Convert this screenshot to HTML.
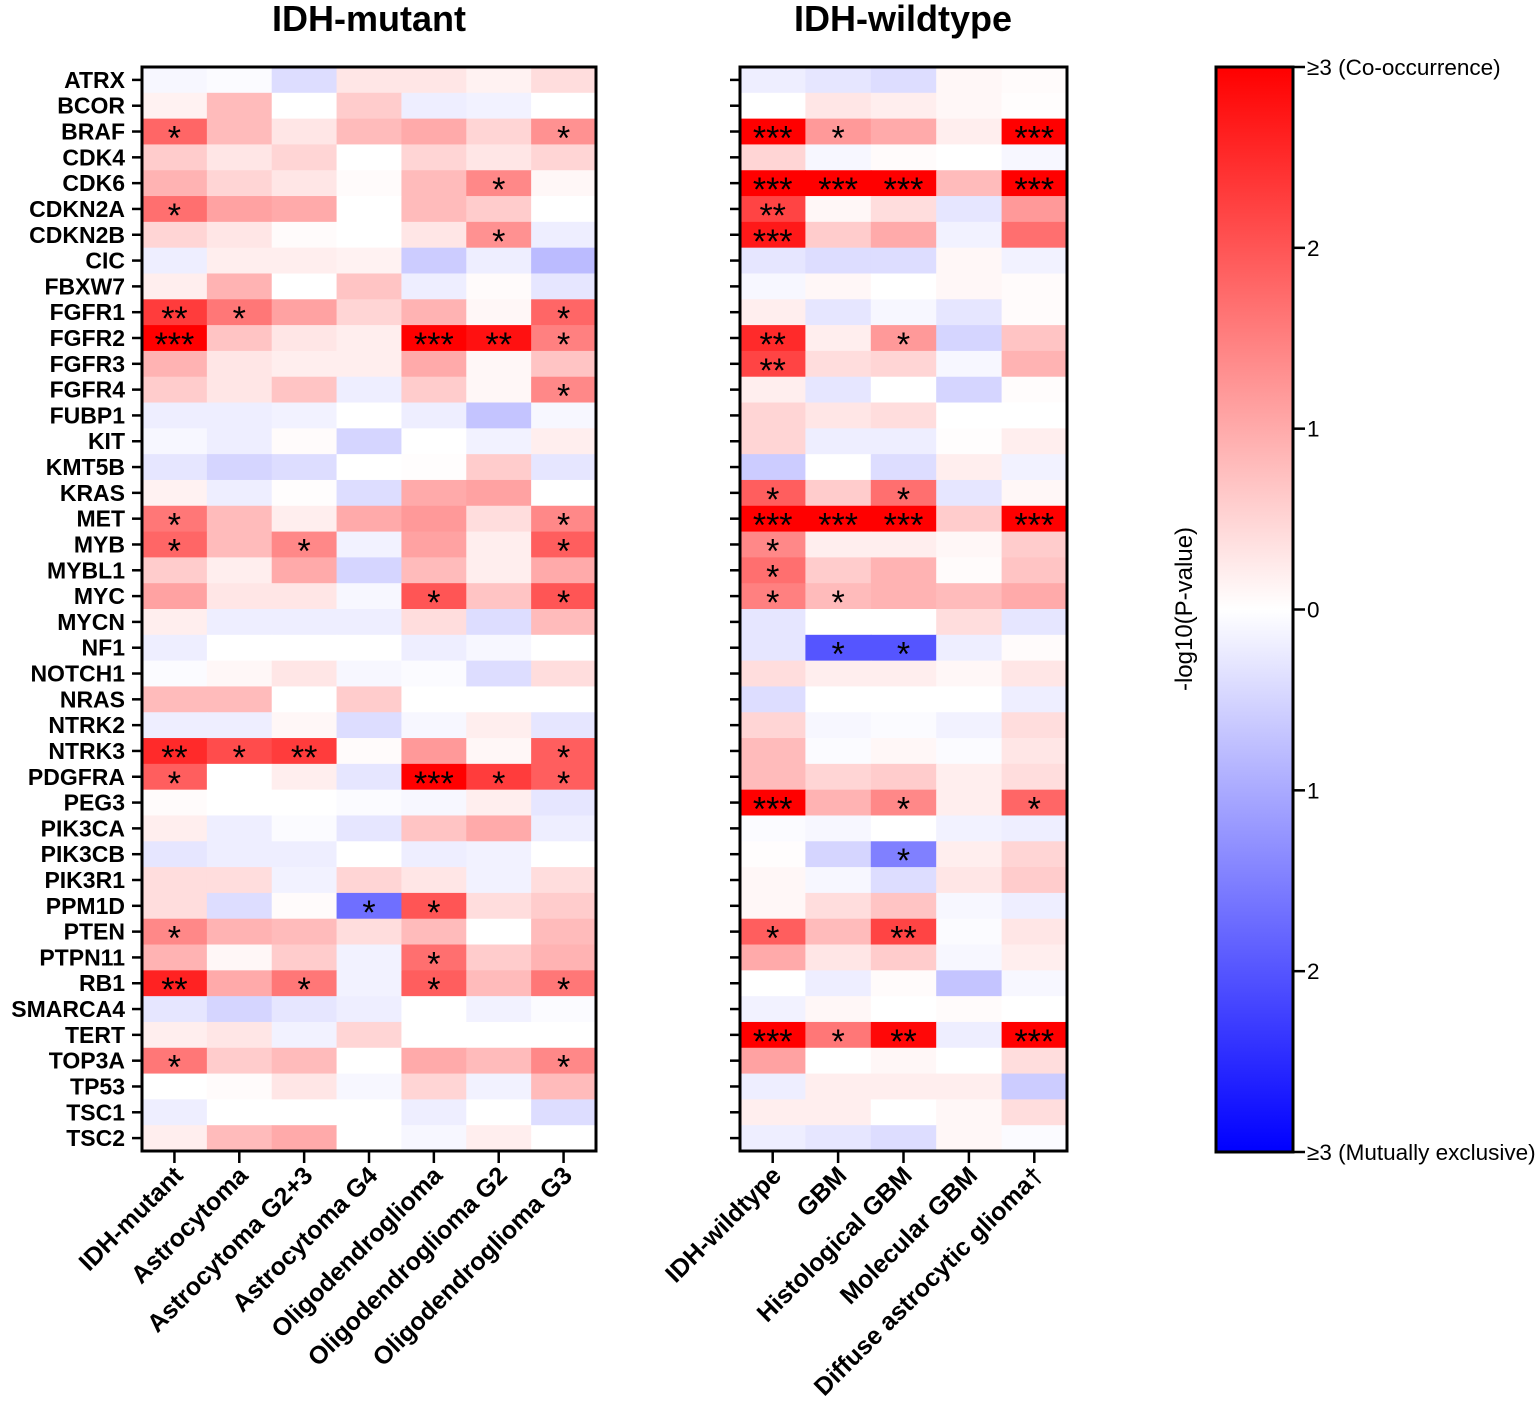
<!DOCTYPE html>
<html><head><meta charset="utf-8"><style>
html,body{margin:0;padding:0;background:#fff}
svg{display:block;font-family:"Liberation Sans",Arial,sans-serif}
</style></head><body>
<svg id="chart" width="1535" height="1411" viewBox="0 0 1535 1411" xmlns="http://www.w3.org/2000/svg">
<defs><linearGradient id="cb" x1="0" y1="0" x2="0" y2="1">
<stop offset="0" stop-color="#ff0000"/><stop offset="0.5" stop-color="#ffffff"/><stop offset="1" stop-color="#0000ff"/>
</linearGradient></defs>
<text x="369" y="31" text-anchor="middle" font-size="36" font-weight="bold">IDH-mutant</text>
<text x="903" y="31" text-anchor="middle" font-size="36" font-weight="bold">IDH-wildtype</text>
<g id="cells"></g>
<g>
<rect x="1216" y="67" width="77" height="1085" fill="url(#cb)" stroke="#000" stroke-width="3"/>
</g>
<g id="cbticks"></g>
<text transform="translate(1192,609) rotate(-90)" text-anchor="middle" font-size="24">-log10(P-value)</text>
</svg>
<script>
const genes=["ATRX","BCOR","BRAF","CDK4","CDK6","CDKN2A","CDKN2B","CIC","FBXW7","FGFR1","FGFR2","FGFR3","FGFR4","FUBP1","KIT","KMT5B","KRAS","MET","MYB","MYBL1","MYC","MYCN","NF1","NOTCH1","NRAS","NTRK2","NTRK3","PDGFRA","PEG3","PIK3CA","PIK3CB","PIK3R1","PPM1D","PTEN","PTPN11","RB1","SMARCA4","TERT","TOP3A","TP53","TSC1","TSC2"];
const mutCols=["IDH-mutant","Astrocytoma","Astrocytoma G2+3","Astrocytoma G4","Oligodendroglioma","Oligodendroglioma G2","Oligodendroglioma G3"];
const wtCols=["IDH-wildtype","GBM","Histological GBM","Molecular GBM","Diffuse astrocytic glioma\u2020"];
const mutVals=[
[-0.1,-0.05,-0.4,0.3,0.3,0.15,0.4],[0.15,0.8,0,0.6,-0.2,-0.15,0],[1.8,0.8,0.3,0.8,1.0,0.5,1.3],[0.6,0.3,0.5,0,0.5,0.3,0.5],
[0.9,0.5,0.3,0.05,0.8,1.4,0.1],[1.7,1.1,1.0,0,0.8,0.6,0],[0.5,0.3,0.05,0,0.3,1.3,-0.2],[-0.2,0.2,0.2,0.15,-0.6,-0.2,-0.8],
[0.2,0.9,0,0.7,-0.2,0.05,-0.3],[2.3,1.6,1.1,0.5,0.9,0.1,1.8],[3,0.7,0.3,0.2,3,2.8,1.5],[0.9,0.3,0.2,0.2,1.0,0.1,0.7],
[0.6,0.3,0.7,-0.2,0.6,0.1,1.4],[-0.2,-0.2,-0.15,0,-0.2,-0.7,-0.1],[-0.1,-0.2,0.05,-0.5,0,-0.15,0.2],[-0.3,-0.5,-0.4,0,0.02,0.6,-0.3],
[0.15,-0.2,0.02,-0.4,1.0,1.1,0],[1.6,0.8,0.2,1.0,1.2,0.4,1.4],[1.8,0.8,1.4,-0.15,1.1,0.2,1.9],[0.6,0.2,1.0,-0.5,0.8,0.2,1.0],
[1.1,0.3,0.3,-0.1,2.0,0.7,2.0],[0.2,-0.2,-0.2,-0.2,0.4,-0.4,0.8],[-0.2,0,0,0,-0.2,-0.1,0],[-0.05,0.1,0.3,-0.1,-0.05,-0.4,0.4],
[0.8,0.8,0,0.6,0,0,0],[-0.2,-0.2,0.1,-0.4,-0.1,0.2,-0.3],[2.5,2.1,2.3,0.05,1.2,0.1,1.9],[1.9,0,0.2,-0.3,3,2.3,1.9],
[0.05,0,0,-0.05,-0.1,0.2,-0.3],[0.2,-0.2,-0.05,-0.3,0.7,1.0,-0.2],[-0.3,-0.2,-0.2,0,-0.2,-0.15,0],[0.4,0.4,-0.15,0.5,0.3,-0.15,0.4],
[0.4,-0.4,0.05,-1.7,2.0,0.4,0.6],[1.4,0.9,0.8,0.4,0.8,0,0.8],[0.9,0.1,0.6,-0.15,1.7,0.6,0.9],[2.6,1.0,1.6,-0.15,1.9,0.8,1.6],
[-0.3,-0.5,-0.3,-0.2,0,-0.15,-0.05],[0.2,0.3,-0.15,0.5,0,0,0],[1.6,0.6,0.8,0,1.0,0.8,1.4],[0,0.05,0.3,-0.1,0.5,-0.15,0.8],
[-0.2,0,0,0,-0.2,0,-0.4],[0.2,0.8,1.0,0,-0.1,0.2,0]];
const mutStars=[
"","","","","","","", "","","","","","","", "*","","","","","","*", "","","","","","","",
"","","","","","*","", "*","","","","","","", "","","","","","*","", "","","","","","","",
"","","","","","","", "**","*","","","","","*", "***","","","","***","**","*", "","","","","","","",
"","","","","","","*", "","","","","","","", "","","","","","","", "","","","","","","",
"","","","","","","", "*","","","","","","*", "*","","*","","","","*", "","","","","","","",
"","","","","*","","*", "","","","","","","", "","","","","","","", "","","","","","","",
"","","","","","","", "","","","","","","", "**","*","**","","","","*", "*","","","","***","*","*",
"","","","","","","", "","","","","","","", "","","","","","","", "","","","","","","",
"","","","*","*","","", "*","","","","","","", "","","","","*","","", "**","","*","","*","","*",
"","","","","","","", "","","","","","","", "*","","","","","","*", "","","","","","","",
"","","","","","","", "","","","","","",""];
const wtVals=[
[-0.2,-0.3,-0.4,0.1,0.05],[0,0.3,0.2,0.1,0.02],[3,1.2,1.0,0.2,3],[0.5,-0.1,0.05,0,-0.1],[3,3,3,0.8,3],
[2.2,0.1,0.4,-0.3,1.2],[2.7,0.6,1.0,-0.15,1.7],[-0.3,-0.4,-0.4,0.1,-0.15],[-0.1,0.1,0,0.1,0.05],[0.2,-0.3,-0.1,-0.3,0.05],
[2.5,0.2,1.2,-0.5,0.7],[2.2,0.4,0.5,-0.1,0.9],[0.2,-0.3,0,-0.5,0.03],[0.5,0.3,0.4,0,0],[0.5,-0.2,-0.2,0.02,0.2],
[-0.6,0,-0.4,0.2,-0.15],[1.9,0.6,1.7,-0.3,0.1],[3,3,3,0.6,3],[1.4,0.2,0.2,0.1,0.6],[1.7,0.6,0.9,0.05,0.7],
[1.5,0.8,0.9,0.8,1.0],[-0.3,0,0,0.4,-0.3],[-0.3,-2.0,-2.0,-0.2,0.05],[0.4,0.2,0.2,0.1,0.3],[-0.4,0,0,0,-0.2],
[0.5,-0.1,-0.05,-0.15,0.4],[0.8,-0.05,0.1,-0.05,0.3],[0.8,0.5,0.6,0.2,0.4],[3,0.9,1.4,0.2,1.8],[-0.05,-0.1,0,-0.15,-0.2],
[0.02,-0.5,-1.5,0.2,0.5],[0.1,-0.1,-0.4,0.3,0.6],[0.1,0.4,0.7,-0.1,-0.2],[1.9,0.8,2.2,-0.05,0.3],[1.0,0.3,0.6,-0.1,0.2],
[0,-0.2,0.05,-0.7,-0.1],[-0.15,0.1,0,0.05,0],[3,1.6,2.9,-0.2,3],[1.1,0,0.1,0,0.4],[-0.2,0.2,0.2,0.2,-0.6],
[0.2,0.2,0,0.1,0.4],[-0.2,-0.3,-0.4,0.1,-0.05]];
const wtStars=[
"","","","","", "","","","","", "***","*","","","***", "","","","","", "***","***","***","","***",
"**","","","","", "***","","","","", "","","","","", "","","","","", "","","","","",
"**","","*","","", "**","","","","", "","","","","", "","","","","", "","","","","",
"","","","","", "*","","*","","", "***","***","***","","***", "*","","","","", "*","","","","",
"*","*","","","", "","","","","", "","*","*","","", "","","","","", "","","","","",
"","","","","", "","","","","", "","","","","", "***","","*","","*", "","","","","",
"","","*","","", "","","","","", "","","","","", "*","","**","","", "","","","","",
"","","","","", "","","","","", "***","*","**","","***", "","","","","", "","","","","",
"","","","","", "","","","",""];

const NS="http://www.w3.org/2000/svg";
const svg=document.getElementById('chart');
const cells=document.getElementById('cells');
const Y0=67,Y1=1151,rowH=(Y1-Y0)/genes.length;
function yScale(i){return Y0+i*rowH;}
function color(v){
  let t=Math.min(Math.abs(v),3)/3;
  let c=Math.round(255*(1-t));
  return v>=0?`rgb(255,${c},${c})`:`rgb(${c},${c},255)`;
}
function mk(tag,attrs,parent){const e=document.createElementNS(NS,tag);for(const k in attrs)e.setAttribute(k,attrs[k]);(parent||svg).appendChild(e);return e;}

function panel(name,x0,x1,cols,vals,stars,showGenes){
  const g=mk('g',{},cells);
  
  
  const cw=(x1-x0)/cols.length;
  const xScale=j=>x0+j*cw;
  vals.forEach((row,i)=>{
    row.forEach((v,j)=>{
      const r=mk('rect',{x:xScale(j),y:yScale(i),width:cw+0.6,height:rowH+0.6,fill:color(v)},g);
      
      
      const s=stars[i*cols.length+j];
      if(s){
        const t=mk('text',{x:xScale(j)+cw/2,y:yScale(i)+rowH/2+18,'text-anchor':'middle','font-size':34},g);
        
        
        t.textContent=s;
      }
    });
  });
  const b=mk('rect',{x:x0,y:Y0,width:x1-x0,height:Y1-Y0,fill:'none',stroke:'#000','stroke-width':3},g);
  
  
  genes.forEach((gn,i)=>{
    const yc=yScale(i)+rowH/2;
    mk('line',{x1:x0-10,x2:x0,y1:yc,y2:yc,stroke:'#000','stroke-width':2.5},g);
    if(showGenes){
      const t=mk('text',{x:x0-17,y:yc+8,'text-anchor':'end','font-size':23,'font-weight':'bold'},g);
      
      
      t.textContent=gn;
    }
  });
  cols.forEach((c,j)=>{
    const xc=xScale(j)+cw/2;
    mk('line',{x1:xc,x2:xc,y1:Y1,y2:Y1+12,stroke:'#000','stroke-width':2.5},g);
    const t=mk('text',{transform:`translate(${xc+10},${Y1+26}) rotate(-45)`,'text-anchor':'end','font-size':25,'font-weight':'bold'},g);
    
    
    t.textContent=c;
  });
}
panel('idh-mutant',142,596,mutCols,mutVals,mutStars,true);
panel('idh-wildtype',740,1067,wtCols,wtVals,wtStars,false);

const cbLabels=["\u22653 (Co-occurrence)","2","1","0","1","2","\u22653 (Mutually exclusive)"];
const cbt=document.getElementById('cbticks');
cbLabels.forEach((l,k)=>{
  const y=67+k*(1152-67)/6;
  mk('line',{x1:1293,x2:1305,y1:y,y2:y,stroke:'#000','stroke-width':2.5},cbt);
  const t=mk('text',{x:1307,y:y+8,'font-size':22.5},cbt);
  
  
  t.textContent=l;
});
</script>
</body></html>
